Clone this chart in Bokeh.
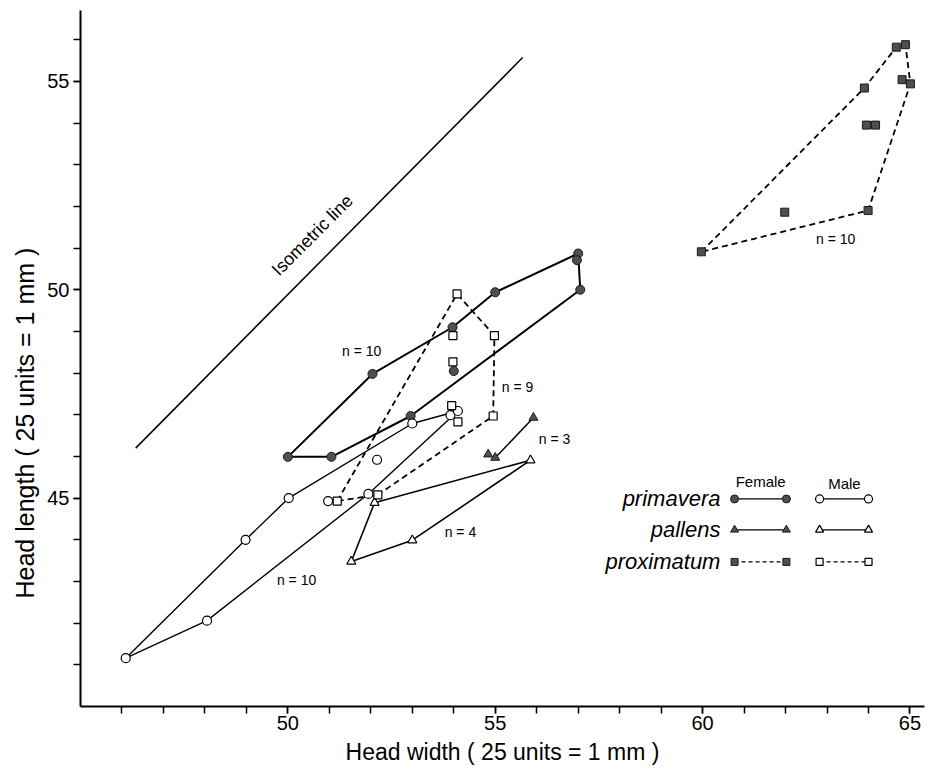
import math
from bokeh.plotting import figure
from bokeh.models import Range1d, FixedTicker, Label, Title
from bokeh.embed import file_html
from bokeh.resources import INLINE

# ---------------- data (head width, head length) ----------------
# primavera, female (filled circles)
prim_f_x = [50.0, 51.05, 52.04, 52.96, 53.97, 54.0, 55.0, 57.0, 56.97, 57.05]
prim_f_y = [45.99, 45.99, 47.98, 46.97, 49.1, 48.05, 49.94, 50.87, 50.71, 50.0]
prim_f_hull = [0, 2, 4, 6, 7, 9, 3, 1, 0]

# primavera, male (open circles)
prim_m_x = [46.09, 48.05, 48.98, 50.02, 50.97, 51.94, 52.15, 53.0, 53.92, 54.1]
prim_m_y = [41.16, 42.06, 44.0, 45.0, 44.93, 45.1, 45.92, 46.79, 46.99, 47.09]
prim_m_hull = [0, 2, 3, 7, 9, 5, 1, 0]

# pallens, female (filled triangles)
pall_f_x = [54.83, 55.0, 55.92]
pall_f_y = [46.05, 45.97, 46.93]
pall_f_hull = [2, 1]

# pallens, male (open triangles)
pall_m_x = [51.53, 52.09, 53.0, 55.85]
pall_m_y = [43.48, 44.89, 43.99, 45.91]
pall_m_hull = [0, 1, 3, 2, 0]

# proximatum, female (filled squares)
prox_f_x = [59.97, 61.98, 63.99, 63.9, 63.95, 64.17, 64.67, 64.89, 64.81, 65.01]
prox_f_y = [50.91, 51.86, 51.9, 54.84, 53.95, 53.95, 55.82, 55.88, 55.04, 54.94]
prox_f_hull = [0, 3, 6, 7, 9, 2, 0]

# proximatum, male (open squares)
prox_m_x = [51.19, 52.17, 53.95, 54.1, 53.98, 53.98, 54.08, 54.98, 54.95]
prox_m_y = [44.93, 45.08, 47.22, 46.83, 48.27, 48.9, 49.9, 48.9, 46.97]
prox_m_hull = [0, 6, 7, 8, 1, 0]

# isometric line
iso_x = [46.33, 55.66]
iso_y = [46.2, 55.57]

x_ticks = [50, 55, 60, 65]
y_ticks = [45, 50, 55]
x_minor = list(range(46, 66))
y_minor = list(range(41, 57))

n_labels = ["n = 10", "n = 10", "n = 4", "n = 9", "n = 3", "n = 10"]

# ---------------- figure ----------------
FONT = "Liberation Sans"
FILL = "#4f4f4f"
EDGE = "#1a1a1a"

p = figure(width=940, height=770,
           x_range=Range1d(45, 65.35), y_range=Range1d(40, 56.7),
           output_backend="svg", toolbar_location=None,
           min_border_left=80, min_border_right=16,
           min_border_top=10, min_border_bottom=64)
p.outline_line_color = None
p.xgrid.visible = False
p.ygrid.visible = False
p.background_fill_color = "white"

p.xaxis.ticker = FixedTicker(ticks=x_ticks, minor_ticks=x_minor)
p.yaxis.ticker = FixedTicker(ticks=y_ticks, minor_ticks=y_minor)
for ax in (p.xaxis, p.yaxis):
    ax.axis_line_width = 2
    ax.axis_line_color = "black"
    ax.major_tick_line_width = 1.5
    ax.minor_tick_line_width = 1.5
    ax.major_tick_line_color = "black"
    ax.minor_tick_line_color = "black"
    ax.major_tick_out = 7
    ax.major_tick_in = 0
    ax.minor_tick_out = 7
    ax.minor_tick_in = 0
    ax.major_label_text_font = FONT
    ax.major_label_text_font_size = "20px"
    ax.major_label_text_color = "black"
p.xaxis.major_label_standoff = 2
p.yaxis.major_label_standoff = 4
p.xaxis.axis_label = "Head width ( 25 units = 1 mm )"
p.xaxis.axis_label_text_font = FONT
p.xaxis.axis_label_text_font_size = "23px"
p.xaxis.axis_label_text_font_style = "normal"
p.xaxis.axis_label_text_color = "black"
p.xaxis.axis_label_standoff = 6

# y-axis title, placed a little below the frame centre as in the original
p.add_layout(Title(text="Head length ( 25 units = 1 mm )", align="left", offset=108,
                   text_font=FONT, text_font_size="25px", text_font_style="normal",
                   text_color="black", vertical_align="middle"), "left")


def hull(xs, ys, order):
    return [xs[i] for i in order], [ys[i] for i in order]


# isometric line
p.line(iso_x, iso_y, line_color="black", line_width=1.5)
p.add_layout(Label(x=50.59, y=51.31, text="Isometric line", angle=math.pi / 4,
                   text_align="center", text_baseline="middle",
                   text_font=FONT, text_font_size="18px", text_color="black"))

# hull outlines
groups = [
    (prim_f_x, prim_f_y, prim_f_hull, "solid", 2.0),
    (prim_m_x, prim_m_y, prim_m_hull, "solid", 1.4),
    (pall_f_x, pall_f_y, pall_f_hull, "solid", 1.5),
    (pall_m_x, pall_m_y, pall_m_hull, "solid", 1.6),
    (prox_f_x, prox_f_y, prox_f_hull, "6 4", 1.8),
    (prox_m_x, prox_m_y, prox_m_hull, "6 4", 1.8),
]
for xs, ys, order, dash, lw in groups:
    hx, hy = hull(xs, ys, order)
    p.line(hx, hy, line_color="black", line_width=lw, line_dash=dash)

# markers
p.scatter(prim_f_x, prim_f_y, marker="circle", size=9, fill_color=FILL, line_color=EDGE, line_width=1)
p.scatter(prim_m_x, prim_m_y, marker="circle", size=9, fill_color="white", line_color="black", line_width=1.2)
p.scatter(pall_f_x, pall_f_y, marker="triangle", size=9, fill_color=FILL, line_color=EDGE, line_width=1)
p.scatter(pall_m_x, pall_m_y, marker="triangle", size=9, fill_color="white", line_color="black", line_width=1.2)
p.scatter(prox_f_x, prox_f_y, marker="square", size=8, fill_color=FILL, line_color=EDGE, line_width=1)
p.scatter(prox_m_x, prox_m_y, marker="square", size=8, fill_color="white", line_color="black", line_width=1.2)

# sample-size labels
n_pos = [(51.78, 48.53), (50.21, 43.04), (54.16, 44.19), (55.54, 47.66), (56.43, 46.42), (63.21, 51.21)]
for t, (lx, ly) in zip(n_labels, n_pos):
    p.add_layout(Label(x=lx, y=ly, text=t, text_align="center", text_baseline="middle",
                       text_font=FONT, text_font_size="14px", text_color="black"))

# ---------------- legend (drawn by hand) ----------------
leg_rows = [("primavera", "circle", "solid", 8, 44.98),
            ("pallens", "triangle", "solid", 8, 44.24),
            ("proximatum", "square", "4 3", 7, 43.47)]
fx0, fx1 = 60.77, 62.02
mx0, mx1 = 62.82, 64.0
p.add_layout(Label(x=61.40, y=45.41, text="Female", text_align="center", text_baseline="middle",
                   text_font=FONT, text_font_size="15px", text_color="black"))
p.add_layout(Label(x=63.42, y=45.36, text="Male", text_align="center", text_baseline="middle",
                   text_font=FONT, text_font_size="15px", text_color="black"))
for name, mk, dash, sz, ry in leg_rows:
    p.add_layout(Label(x=60.43, y=ry, text=name, text_align="right", text_baseline="middle",
                       text_font=FONT, text_font_size="22px", text_font_style="italic",
                       text_color="black"))
    p.line([fx0, fx1], [ry, ry], line_color="black", line_width=1.3, line_dash=dash)
    p.line([mx0, mx1], [ry, ry], line_color="black", line_width=1.3, line_dash=dash)
    p.scatter([fx0, fx1], [ry, ry], marker=mk, size=sz, fill_color=FILL, line_color=EDGE, line_width=1)
    p.scatter([mx0, mx1], [ry, ry], marker=mk, size=sz, fill_color="white", line_color="black", line_width=1.2)

open("out.html", "w").write(file_html(p, INLINE))
